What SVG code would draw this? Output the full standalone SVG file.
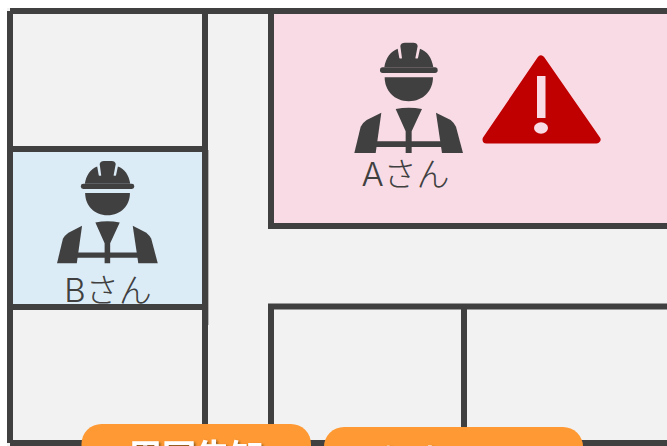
<svg xmlns="http://www.w3.org/2000/svg" width="667" height="446" viewBox="0 0 667 446">
<style>
.wall{fill:none;stroke:#404040;stroke-width:6}
.dk{fill:#404040}
.lbl{font-family:"Inter","Noto Sans CJK JP",sans-serif;font-size:33px;font-weight:300;fill:#404040;text-anchor:middle}
.btn{fill:#ff9933}
.btxt{font-family:"Noto Sans CJK JP","Noto Sans",sans-serif;font-size:34px;font-weight:700;fill:#fff;text-anchor:middle;filter:url(#sh)}
</style>
<defs>
<filter id="sh" x="-10%" y="-10%" width="120%" height="130%"><feDropShadow dx="1.5" dy="1.5" stdDeviation="0.8" flood-color="#5a3a10" flood-opacity="0.8"/></filter>
<g id="worker" transform="scale(.3333)">
<rect class="dk" x="120" y="112" width="173" height="17" rx="8"/>
<path class="dk" d="M133 112C137 84 152 64 173 56L178 84Q180 87 186 85L181 48Q183 38 195 38L220 38Q231 38 233 48L226 85Q232 87 234 84L240 56C262 64 276 84 280 112Z"/>
<path class="dk" d="M134 142H279C279 182 250 214 206 214C163 214 134 182 134 142Z"/>
<path class="dk" d="M167 237Q206 229 246 237L215 304V334H305V351H215V369H197V351H107V334H197V304Z"/>
<path class="dk" d="M124 248L107 369H43L62 290Q66 280 80 270Z"/>
<path class="dk" d="M288 248L306 369H369L348 290Q344 280 332 270Z"/>
</g>
</defs>
<rect x="7" y="8" width="660" height="438" fill="#f2f2f2"/>
<g id="room-a"><rect x="271" y="11" width="399" height="215" fill="#f8dbe5"/></g>
<g id="room-b"><rect x="10" y="149" width="195" height="158" fill="#dcecf7"/></g>
<g id="connectors">
<path class="wall" d="M10 11H667M10 11V443M205 11V443M271 11V226H667M10 149H205M10 307H205M271 443V306.500H667M464 306.500V443M10 443H667"/>
<path d="M208.500 150V325" stroke="#b5b5b5" fill="none"/>
</g>
<g id="worker-a">
<use href="#worker" x="340" y="30"/>
<text class="lbl" x="405.500" y="185.500">Aさん</text>
</g>
<g id="alert">
<path d="M541 59.500L596.500 139.500H486.500Z" fill="#c00000" stroke="#c00000" stroke-width="8" stroke-linejoin="round"/>
<rect x="537" y="76" width="8.500" height="42" fill="#f8dbe5"/>
<ellipse cx="541" cy="128" rx="7" ry="5.700" fill="#f8dbe5"/>
</g>
<g id="worker-b" transform="translate(57 161) scale(.927) translate(-354.300 -42.700)">
<use href="#worker" x="340" y="30"/>
</g>
<text id="label-b" class="lbl" x="108" y="301.500">Bさん</text>
<g id="btn-notify"><rect class="btn" x="81.500" y="424" width="229.500" height="60" rx="20"/><text class="btxt" x="196" y="469">周囲告知</text></g>
<g id="btn-danger"><rect class="btn" x="324" y="427" width="259" height="60" rx="20"/><text class="btxt" x="456" y="472" style="font-size:31px">危険エリア</text></g>
</svg>
